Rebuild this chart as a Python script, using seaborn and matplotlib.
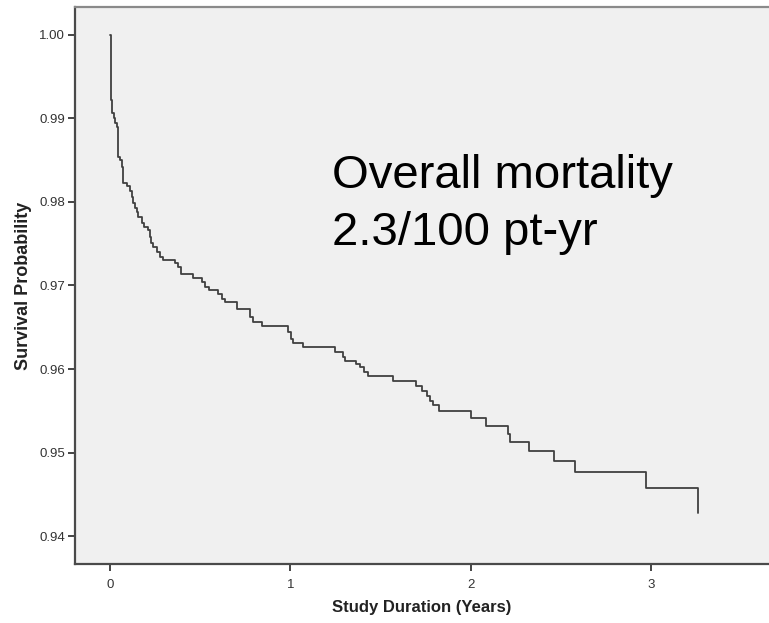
import matplotlib
matplotlib.use("Agg")
import matplotlib.pyplot as plt
import seaborn as sns
import pandas as pd

# Kaplan-Meier step points: time (years) where survival drops, survival after drop
times = [0.0, 0.0039, 0.0094, 0.0139, 0.0222, 0.0277, 0.0388, 0.0427, 0.0555, 0.0666,
         0.0721, 0.0943, 0.1109, 0.1220, 0.1276, 0.1387, 0.1498, 0.1553, 0.1775, 0.1886,
         0.2108, 0.2219, 0.2274, 0.2385, 0.2607, 0.2773, 0.2940, 0.3605, 0.3771, 0.3938,
         0.4603, 0.5103, 0.5269, 0.5491, 0.5990, 0.6212, 0.6378, 0.7044, 0.7765, 0.7931,
         0.8430, 0.9872, 1.0039, 1.0150, 1.0704, 1.2479, 1.2923, 1.3034, 1.3644, 1.3866,
         1.4088, 1.4309, 1.5696, 1.6972, 1.7304, 1.7582, 1.7748, 1.7914, 1.8247, 2.0022,
         2.0854, 2.2074, 2.2185, 2.3239, 2.4626, 2.5790, 2.9728, 3.2612]
survival = [1.0, 0.99223, 0.99151, 0.99068, 0.99008, 0.98948, 0.98900, 0.98542, 0.98506, 0.98422,
            0.98231, 0.98195, 0.98136, 0.98064, 0.97992, 0.97932, 0.97885, 0.97825, 0.97753, 0.97705,
            0.97669, 0.97586, 0.97514, 0.97466, 0.97406, 0.97346, 0.97311, 0.97275, 0.97227, 0.97132,
            0.97084, 0.97036, 0.96988, 0.96952, 0.96893, 0.96833, 0.96797, 0.96713, 0.96618, 0.96558,
            0.96510, 0.96438, 0.96355, 0.96307, 0.96259, 0.96199, 0.96140, 0.96092, 0.96056, 0.96020,
            0.95960, 0.95913, 0.95853, 0.95793, 0.95733, 0.95673, 0.95614, 0.95566, 0.95494, 0.95411,
            0.95315, 0.95219, 0.95124, 0.95016, 0.94897, 0.94765, 0.94574, 0.94275]

x_ticks = [0, 1, 2, 3]
y_ticks = [0.94, 0.95, 0.96, 0.97, 0.98, 0.99, 1.00]
y_ticklabels = ["0.94", "0.95", "0.96", "0.97", "0.98", "0.99", "1.00"]
annotation_lines = ["Overall mortality", "2.3/100 pt-yr"]

sns.set_theme(style="white")
plt.rcParams["font.family"] = ["Liberation Sans", "DejaVu Sans"]

fig = plt.figure(figsize=(7.69, 6.23), dpi=100)
fig.patch.set_facecolor("white")
ax = fig.add_axes([75 / 769, 59 / 623, 1 - 75 / 769, 557 / 623])
ax.set_facecolor("#f0f0f0")

df = pd.DataFrame({"Study Duration (Years)": times, "Survival Probability": survival})
sns.lineplot(data=df, x="Study Duration (Years)", y="Survival Probability",
             drawstyle="steps-post", estimator=None, sort=True,
             color="#404040", linewidth=1.3, ax=ax)

ax.set_xlim(-0.194, 3.655)
ax.set_ylim(0.93665, 1.00335)
ax.set_xticks(x_ticks)
ax.set_xticklabels([str(v) for v in x_ticks])
ax.set_yticks(y_ticks)
ax.set_yticklabels(y_ticklabels)

for side in ["left", "bottom"]:
    ax.spines[side].set_color("#4a4a4a")
    ax.spines[side].set_linewidth(1.6)
ax.spines["top"].set_color("#8a8a8a")
ax.spines["top"].set_linewidth(1.6)
ax.spines["right"].set_visible(False)

ax.tick_params(axis="both", which="major", direction="out", length=5, width=1.4,
               color="#444444", labelsize=9.5, labelcolor="#333333",
               left=True, bottom=True)
ax.tick_params(axis="x", pad=6)
ax.tick_params(axis="y", pad=2)

ax.set_xlabel("Study Duration (Years)", fontsize=12, fontweight="bold",
              color="#222222", labelpad=6)
ax.set_ylabel("Survival Probability", fontsize=13, fontweight="bold",
              color="#222222", labelpad=5)

ax.text(1.231, 0.98171, annotation_lines[0], fontsize=34, color="black",
        ha="left", va="baseline")
ax.text(1.231, 0.97490, annotation_lines[1], fontsize=34, color="black",
        ha="left", va="baseline")

fig.savefig("out.png", dpi=100)
